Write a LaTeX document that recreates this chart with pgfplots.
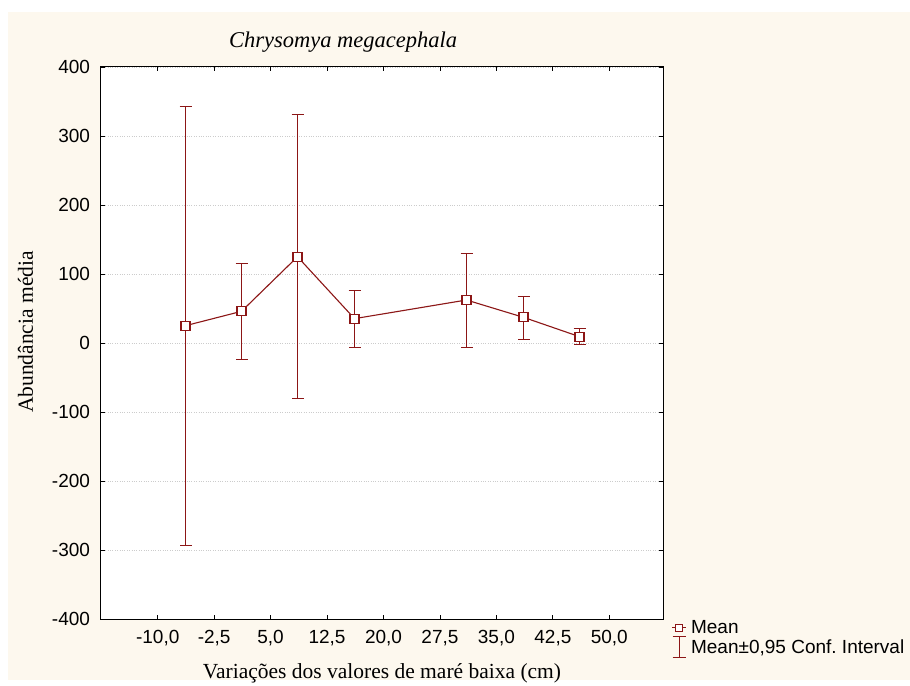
\documentclass[border=0pt]{standalone}
\usepackage{pgfplots}
\pgfplotsset{compat=1.18}
\usepackage{fontspec}
\setmainfont{Liberation Serif}
\setsansfont{Liberation Sans}
\definecolor{cream}{RGB}{253,248,238}
\definecolor{dred}{RGB}{140,22,22}
\begin{document}
\frenchspacing
\begin{tikzpicture}[x=1bp,y=1bp]
\fill[white] (0,0) rectangle (910,685);
\fill[cream] (8,5) rectangle (910,673);
\begin{axis}[
  at={(100.5bp,66bp)}, anchor=south west,
  scale only axis, width=563bp, height=552bp,
  axis background/.style={fill=white},
  xmin=-17.6, xmax=57.2, ymin=-400, ymax=400,
  xtick={-10,-2.5,5,12.5,20,27.5,35,42.5,50},
  ytick={-400,-300,-200,-100,0,100,200,300,400},
  tick align=inside, major tick length=4.5bp,
  axis line style={line width=1bp},
  every tick/.style={black, line width=0.9bp},
  ymajorgrids, grid style={gray!40, dotted, line width=0.6bp},
  /pgf/number format/assume math mode=true,
  xticklabel style={font=\sffamily\fontsize{19bp}{22bp}\selectfont,
    /pgf/number format/.cd, use comma, fixed, fixed zerofill, precision=1},
  yticklabel style={font=\sffamily\fontsize{19bp}{22bp}\selectfont,
    /pgf/number format/.cd, fixed, precision=0},
  xticklabel shift=8bp, yticklabel shift=7bp,
  title={\itshape Chrysomya megacephala},
  title style={font=\fontsize{22.5bp}{26bp}\selectfont, at={(0.431,1)}, yshift=5bp},
  xlabel={Variações dos valores de maré baixa (cm)},
  ylabel={Abundância média},
  label style={font=\fontsize{21.5bp}{25bp}\selectfont},
  xlabel style={yshift=-10bp},
  ylabel style={at={(ticklabel cs:0.52)}, yshift=12bp},
  legend style={at={(1.014,0.0)}, anchor=north west, draw=none, fill=none,
    font=\sffamily\fontsize{19bp}{21bp}\selectfont, inner sep=0pt,
    row sep=-1bp, nodes={inner sep=1.5bp},
    /tikz/every odd column/.append style={column sep=3bp}},
  legend cell align=left,
]
\addplot[dred, line width=1.1bp, mark=square*, mark size=4.5bp,
  mark options={fill=white, line width=1.1bp, solid, draw=dred},
  legend image code/.code={
    \draw[dred, line width=1bp] (0bp,0bp) -- (14bp,0bp);
    \draw[dred, fill=white, line width=1bp] (3.5bp,-3.5bp) rectangle (10.5bp,3.5bp);
  },
  error bars/.cd, y dir=both, y explicit,
  error bar style={line width=1bp, dred, solid},
  error mark options={line width=1bp, mark size=6bp, dred, solid, rotate=90}]
  table[x=x, y=y, y error plus=ep, y error minus=em] {
  x       y      ep     em
  -6.307  25.1   317    318
  1.133   45.9   69.1   69.5
  8.573   125    206    206
  16.146  35.3   41.5   42.1
  31.027  62.3   67.1   68.1
  38.600  37.2   30.9   31.9
  46.040  9.2    11.1   11.6
  };
\addlegendentry{Mean}
\addlegendimage{legend image code/.code={
    \draw[dred, line width=1bp] (7bp,-10bp) -- (7bp,11bp);
    \draw[dred, line width=1bp] (0.5bp,-10bp) -- (13.5bp,-10bp);
    \draw[dred, line width=1bp] (0.5bp,11bp) -- (13.5bp,11bp);
  }}
\addlegendentry{Mean±0,95 Conf. Interval}
\end{axis}
\end{tikzpicture}
\end{document}
